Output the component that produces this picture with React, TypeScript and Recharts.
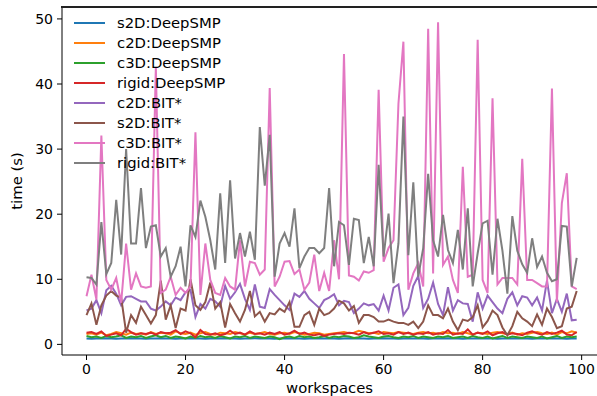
import { LineChart, Line, XAxis, YAxis } from 'recharts';

// planning time per workspace, seconds
const s2dDeep = [
  0.9, 0.85, 0.9, 0.9, 0.95, 0.9, 0.85, 0.9, 0.9, 0.95,
  0.9, 0.9, 0.85, 0.9, 0.9, 0.95, 0.9, 0.9, 0.85, 0.9,
  0.9, 0.95, 0.9, 0.9, 0.85, 0.9, 0.9, 0.95, 0.9, 0.9,
  0.9, 0.85, 0.9, 0.9, 0.95, 0.9, 0.9, 0.9, 0.85, 0.9,
  0.95, 0.9, 0.9, 0.9, 0.85, 0.9, 0.9, 0.95, 0.9, 0.9,
  0.9, 0.85, 0.9, 0.95, 0.9, 0.9, 0.9, 0.85, 0.9, 0.9,
  0.95, 0.9, 0.9, 0.85, 0.9, 0.9, 0.9, 0.95, 0.9, 0.85,
  0.9, 0.9, 0.9, 0.95, 0.9, 0.9, 0.85, 0.9, 0.9, 0.9,
  0.95, 0.9, 0.9, 0.85, 0.9, 0.9, 0.9, 0.95, 0.9, 0.9,
  0.85, 0.9, 0.9, 0.9, 0.95, 0.9, 0.9, 0.85, 0.9, 0.9,
];

const c2dDeep = [
  1.6, 1.7, 1.5, 1.8, 1.4, 1.6, 1.9, 1.7, 1.5, 1.8,
  1.6, 1.7, 1.5, 1.9, 1.6, 1.8, 1.7, 1.5, 2.0, 1.7,
  1.6, 1.8, 1.5, 1.7, 1.9, 1.6, 1.5, 1.8, 1.7, 1.6,
  1.9, 1.7, 1.5, 1.8, 1.6, 1.7, 1.9, 1.6, 1.5, 1.7,
  1.8, 1.6, 1.9, 1.7, 1.5, 1.6, 1.8, 1.7, 1.5, 1.6,
  1.7, 1.8, 1.9, 1.7, 1.8, 2.1, 1.9, 1.7, 1.8, 1.6,
  1.9, 1.8, 1.7, 1.9, 1.8, 1.7, 1.6, 1.8, 1.9, 1.7,
  1.8, 1.6, 1.9, 1.7, 1.8, 1.6, 1.9, 1.7, 1.5, 1.8,
  1.7, 1.6, 1.8, 1.9, 1.7, 1.6, 1.8, 1.5, 1.7, 1.6,
  1.8, 1.9, 1.7, 1.6, 1.8, 1.5, 1.9, 1.7, 2.0, 1.8,
];

const c3dDeep = [
  1.3, 1.1, 1.2, 1.0, 1.3, 1.1, 1.2, 1.4, 1.0, 1.2,
  1.1, 1.3, 1.0, 1.2, 1.4, 1.1, 1.3, 1.0, 1.2, 1.1,
  0.9, 1.2, 1.0, 1.3, 1.1, 1.2, 1.0, 1.3, 1.1, 0.9,
  1.2, 1.1, 1.3, 1.0, 1.2, 1.1, 1.0, 1.2, 1.1, 0.8,
  1.1, 1.2, 1.0, 1.3, 1.1, 1.2, 1.0, 1.1, 1.3, 1.0,
  1.2, 1.1, 1.3, 1.2, 1.0, 1.1, 1.4, 1.2, 1.1, 1.0,
  1.2, 1.3, 1.1, 1.0, 1.2, 1.1, 1.3, 1.0, 1.2, 1.1,
  1.0, 1.2, 1.1, 1.3, 1.0, 1.1, 1.2, 1.0, 1.3, 1.1,
  1.0, 1.2, 0.9, 1.1, 1.3, 1.0, 1.2, 1.1, 1.0, 1.2,
  1.1, 1.0, 1.2, 0.9, 1.1, 1.3, 1.0, 1.2, 1.1, 1.2,
];

const rigidDeep = [
  1.8, 1.9, 1.6, 2.0, 1.3, 1.5, 1.7, 1.4, 2.4, 1.9,
  1.5, 1.7, 1.6, 1.8, 1.5, 1.9, 1.7, 1.8, 2.2, 1.6,
  2.0, 1.7, 1.1, 2.2, 1.6, 1.5, 1.7, 1.4, 1.6, 2.1,
  1.6, 1.8, 1.5, 2.0, 1.6, 1.7, 1.5, 1.8, 1.6, 1.9,
  1.5, 1.7, 2.1, 1.6, 1.8, 1.5, 1.4, 1.6, 1.3, 1.5,
  1.6, 1.7, 1.6, 1.8, 1.7, 1.5, 1.9, 1.6, 1.8, 2.0,
  1.6, 1.7, 1.5, 1.9, 1.6, 1.8, 1.5, 1.7, 1.6, 1.9,
  1.5, 1.7, 1.6, 2.2, 1.5, 1.7, 1.6, 2.3, 1.5, 1.8,
  1.6, 2.0, 1.4, 1.7, 1.9, 1.5, 1.7, 1.6, 1.4, 1.8,
  2.0, 1.7, 1.5, 1.9, 1.6, 1.8, 2.1, 1.5, 1.4, 1.9,
];

const c2dBit = [
  5.2, 5.5, 6.8, 4.8, 8.3, 9.0, 7.8, 6.0, 7.3, 7.4,
  7.0, 6.6, 6.6, 5.5, 5.2, 5.8, 6.6, 6.0, 7.2, 6.8,
  8.0, 8.4, 4.2, 6.2, 5.5, 7.0, 6.6, 5.8, 9.0, 7.0,
  8.0, 9.3, 7.0, 5.3, 9.2, 5.8, 5.6, 8.5, 7.6, 6.8,
  6.0, 5.3, 7.8, 7.3, 8.2, 7.0, 6.3, 5.6, 6.8, 7.2,
  7.7, 6.0, 6.7, 6.5, 4.8, 5.5, 6.3, 6.0, 6.2, 5.2,
  7.5, 5.2, 8.7, 9.2, 4.5, 5.6, 9.0, 10.5, 5.6, 7.0,
  9.5, 6.2, 4.5, 8.8, 5.2, 6.8, 6.3, 6.2, 3.5, 8.0,
  5.5, 7.5, 6.5, 5.5, 4.8, 7.0, 8.0, 6.0, 7.4, 7.2,
  6.0, 7.2, 5.2, 9.8, 4.8, 7.0, 5.0, 7.8, 3.7, 3.8,
];

const s2dBit = [
  4.5, 6.3, 3.0, 6.0, 7.5, 8.2, 7.5, 7.2, 1.8, 4.5,
  3.3, 5.8, 4.5, 3.2, 4.5, 9.8, 3.8, 6.0, 2.5, 5.5,
  5.2, 10.0, 6.0, 5.3, 6.5, 9.5, 5.5, 6.5, 2.6, 6.2,
  4.8, 3.5, 5.3, 8.2, 4.3, 5.0, 3.5, 4.8, 4.6, 5.5,
  5.0, 6.5, 2.7, 2.7, 4.5, 5.0, 3.0, 5.5, 4.5, 4.8,
  5.5, 6.7, 6.3, 5.2, 5.9, 3.3, 4.5, 4.5, 4.2, 3.5,
  3.5, 3.8, 3.5, 3.3, 3.3, 3.0, 3.5, 2.5, 3.5, 6.0,
  4.5, 4.5, 4.0, 5.5, 3.5, 2.2, 3.8, 3.6, 4.2, 6.0,
  2.6, 3.6, 5.2, 4.5, 2.6, 1.4, 2.8, 5.0, 4.0, 3.5,
  2.8, 4.6, 3.0, 5.5, 4.2, 2.5, 2.8, 5.5, 5.8, 8.2,
];

const c3dBit = [
  7.4, 10.7, 6.9, 32.1, 9.9, 8.4, 10.2, 6.4, 15.5, 8.4,
  10.9, 8.9, 8.7, 8.9, 42.6, 7.9, 8.4, 10.4, 7.6, 8.7,
  7.9, 8.9, 32.6, 7.6, 15.5, 9.9, 7.9, 7.6, 10.2, 8.9,
  8.4, 16.0, 8.9, 12.7, 12.5, 10.7, 11.5, 39.4, 8.9, 10.4,
  12.7, 12.8, 10.8, 11.5, 8.4, 9.5, 13.8, 8.2, 11.0, 8.2,
  16.0, 10.0, 44.6, 10.6, 10.4, 9.8, 11.2, 11.0, 11.4, 39.1,
  12.7, 14.8, 16.0, 37.0, 46.5, 8.4, 10.9, 12.5, 8.9, 48.5,
  10.9, 49.5, 12.2, 13.5, 9.9, 7.9, 27.3, 10.4, 10.7, 46.8,
  9.9, 7.9, 37.8, 9.2, 10.2, 10.2, 10.2, 9.2, 28.5, 9.9,
  9.9, 9.4, 8.9, 8.9, 39.3, 6.5, 21.7, 26.3, 8.9, 8.5,
];

const rigidBit = [
  10.3, 10.2, 9.2, 18.8, 10.8, 12.5, 22.2, 13.8, 30.0, 15.5,
  15.5, 24.0, 14.8, 18.1, 18.3, 13.5, 14.8, 10.4, 12.0, 15.0,
  8.9, 18.3, 16.5, 22.1, 19.6, 16.0, 11.5, 23.2, 12.5, 25.2,
  13.2, 17.1, 13.5, 17.3, 13.0, 33.4, 24.4, 32.2, 10.4, 15.5,
  17.1, 15.0, 20.9, 11.7, 13.5, 14.8, 14.8, 14.0, 14.8, 24.0,
  12.0, 18.8, 18.3, 12.2, 19.3, 19.1, 12.5, 16.5, 12.0, 27.6,
  13.5, 20.1, 9.4, 15.5, 35.0, 13.7, 24.9, 10.4, 14.8, 26.2,
  16.0, 13.5, 19.9, 14.5, 12.5, 17.6, 11.5, 20.9, 8.9, 14.0,
  18.6, 19.0, 10.7, 19.3, 14.4, 7.8, 19.7, 14.4, 12.3, 11.0,
  16.3, 11.9, 13.5, 11.0, 9.7, 10.0, 18.2, 18.1, 8.9, 13.3,
];

const xTicks = [0, 20, 40, 60, 80, 100];
const yTicks = [0, 10, 20, 30, 40, 50];

const series = [
  { key: 's2dDeep', name: 's2D:DeepSMP', color: '#1f77b4' },
  { key: 'c2dDeep', name: 'c2D:DeepSMP', color: '#ff7f0e' },
  { key: 'c3dDeep', name: 'c3D:DeepSMP', color: '#2ca02c' },
  { key: 'rigidDeep', name: 'rigid:DeepSMP', color: '#d62728' },
  { key: 'c2dBit', name: 'c2D:BIT*', color: '#9467bd' },
  { key: 's2dBit', name: 's2D:BIT*', color: '#8c564b' },
  { key: 'c3dBit', name: 'c3D:BIT*', color: '#e377c2' },
  { key: 'rigidBit', name: 'rigid:BIT*', color: '#7f7f7f' },
];

const data = s2dDeep.map((v, i) => ({
  ws: i,
  s2dDeep: v,
  c2dDeep: c2dDeep[i],
  c3dDeep: c3dDeep[i],
  rigidDeep: rigidDeep[i],
  c2dBit: c2dBit[i],
  s2dBit: s2dBit[i],
  c3dBit: c3dBit[i],
  rigidBit: rigidBit[i],
}));

const font = '"DejaVu Sans", sans-serif';
const tickStyle = { fontSize: 14, fill: '#000', fontFamily: font };

export default function App() {
  return (
    <div
      style={{
        position: 'absolute',
        left: 0,
        top: 0,
        width: 597,
        height: 396,
        background: '#fff',
      }}
    >
      {/* the axes box runs past the right edge of the picture, so the x range stops at ~103 */}
      <LineChart
        width={597}
        height={396}
        data={data}
        margin={{ top: 7, right: 0, left: 0, bottom: 0 }}
      >
        <XAxis
          dataKey="ws"
          type="number"
          domain={[-4.95, 103.1]}
          ticks={xTicks}
          allowDataOverflow
          height={41}
          stroke="#000"
          tickSize={5}
          tickMargin={4}
          tick={tickStyle}
          label={{
            value: 'workspaces',
            position: 'insideBottom',
            offset: 3,
            style: { fontSize: 14.8, fill: '#000', fontFamily: font },
          }}
        />
        <YAxis
          type="number"
          domain={[-1.63, 51.83]}
          ticks={yTicks}
          allowDataOverflow
          width={62}
          stroke="#000"
          tickSize={5}
          tickMargin={4}
          tick={tickStyle}
          label={{
            value: 'time (s)',
            angle: -90,
            position: 'insideLeft',
            offset: 17,
            style: { fontSize: 14.8, fill: '#000', fontFamily: font, textAnchor: 'middle' },
          }}
        />
        {series.map((s) => (
          <Line
            key={s.key}
            dataKey={s.key}
            name={s.name}
            stroke={s.color}
            strokeWidth={2}
            dot={false}
            type="linear"
            isAnimationActive={false}
          />
        ))}
      </LineChart>

      {/* top spine of the axes box */}
      <div
        style={{
          position: 'absolute',
          left: 61,
          top: 6,
          width: 536,
          height: 2,
          background: '#222',
        }}
      />

      {/* legend, upper left, no frame */}
      <div style={{ position: 'absolute', left: 74, top: 13, fontFamily: font, fontSize: 14.8 }}>
        {series.map((s) => (
          <div key={s.key} style={{ display: 'flex', alignItems: 'center', height: 20 }}>
            <div style={{ width: 31, height: 2, background: s.color }} />
            <span style={{ marginLeft: 12, color: '#000', lineHeight: '20px' }}>{s.name}</span>
          </div>
        ))}
      </div>
    </div>
  );
}
